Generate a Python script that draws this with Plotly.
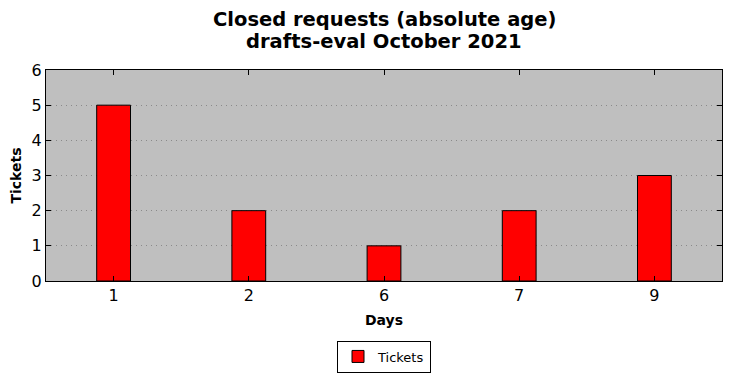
import plotly.graph_objects as go

categories = ["1", "2", "6", "7", "9"]
tickets = [5, 2, 1, 2, 3]
y_ticks = [0, 1, 2, 3, 4, 5, 6]
title_lines = ["Closed requests (absolute age)", "drafts-eval October 2021"]

W, H = 716, 370
L, R, T, B = 38, 2, 62, 97
plot_h = H - T - B

fig = go.Figure()
fig.add_trace(go.Bar(
    x=categories, y=tickets, name="Tickets",
    marker=dict(color="#ff0000", line=dict(color="black", width=1)),
))

# two title lines as annotations (tighter line spacing, like the reference)
for txt, fy in zip(title_lines, [11, 33]):
    fig.add_annotation(
        text=f"<b>{txt}</b>", xref="paper", yref="paper",
        x=0.5, y=(H - B - fy) / plot_h, xanchor="center", yanchor="middle",
        showarrow=False, font=dict(size=19.5, family="DejaVu Sans", color="black"),
    )

fig.update_layout(
    width=W, height=H,
    margin=dict(l=L, r=R, t=T, b=B),
    paper_bgcolor="white", plot_bgcolor="#bfbfbf",
    font=dict(family="DejaVu Sans", color="black"),
    bargap=0.75,
    showlegend=True,
    legend=dict(
        x=0.5, xref="paper", xanchor="center",
        yref="container", y=1 - 348.5 / H, yanchor="middle",
        bordercolor="black", borderwidth=1, bgcolor="white",
        font=dict(size=13), itemwidth=30, tracegroupgap=0,
    ),
)
fig.update_xaxes(
    type="category", range=[-0.5, 4.5], automargin=False,
    title=dict(text="<b>Days</b>", font=dict(size=14), standoff=10),
    tickfont=dict(size=16),
    ticks="inside", ticklen=5, tickcolor="black",
    showline=True, linecolor="black", linewidth=1, mirror="allticks",
    showgrid=False,
)
fig.update_yaxes(
    range=[0, 6], tickvals=y_ticks, automargin=False,
    title=dict(text="<b>Tickets</b>", font=dict(size=14), standoff=6),
    tickfont=dict(size=16),
    ticks="inside", ticklen=5, tickcolor="black",
    showline=True, linecolor="black", linewidth=1, mirror="allticks",
    showgrid=True, gridcolor="#8a8a8a", griddash="1px,4px", gridwidth=1,
    zeroline=False,
)

fig.write_html("out.html")
